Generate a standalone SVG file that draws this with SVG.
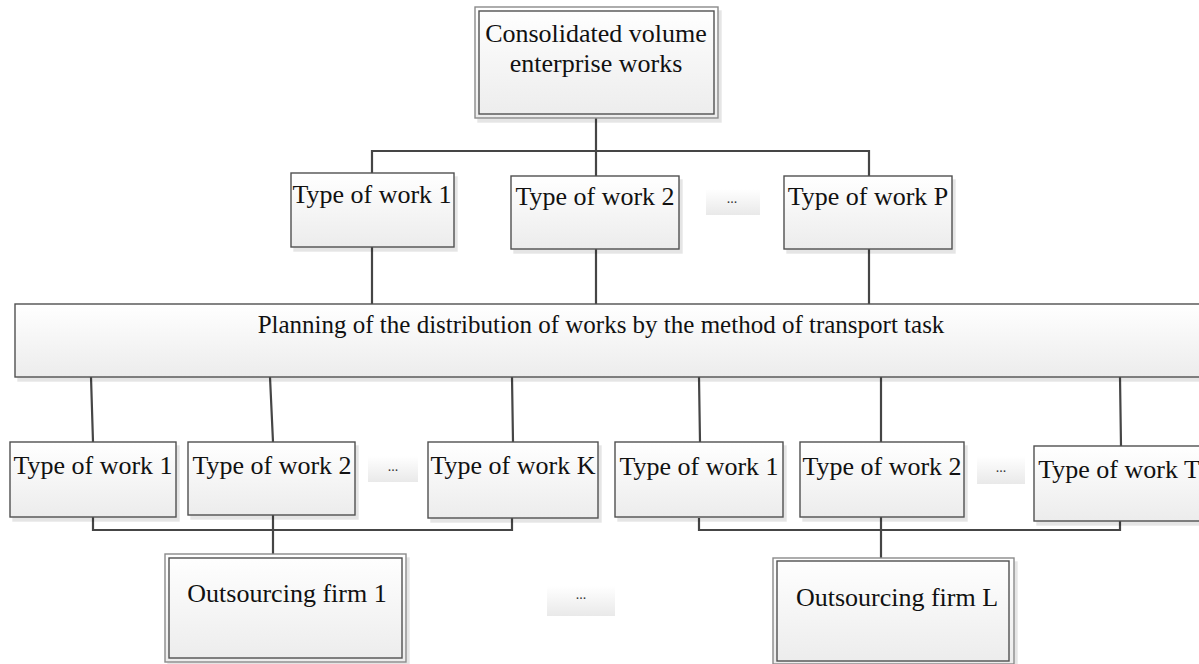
<svg xmlns="http://www.w3.org/2000/svg" width="1199" height="664" viewBox="0 0 1199 664">
  <defs>
    <linearGradient id="boxFill" x1="0" y1="0" x2="0" y2="1">
      <stop offset="0" stop-color="#ffffff"/>
      <stop offset="1" stop-color="#ececec"/>
    </linearGradient>
    <linearGradient id="gapFill" x1="0" y1="0" x2="0" y2="1">
      <stop offset="0" stop-color="#ffffff"/>
      <stop offset="1" stop-color="#e9e9e9"/>
    </linearGradient>
    <filter id="shadow" x="-5%" y="-5%" width="115%" height="120%">
      <feOffset in="SourceAlpha" dx="3" dy="4" result="off"/>
      <feFlood flood-color="#000" flood-opacity="0.1"/>
      <feComposite in2="off" operator="in" result="sh"/>
      <feMerge><feMergeNode in="sh"/><feMergeNode in="SourceGraphic"/></feMerge>
    </filter>
  </defs>
  <style>
    .box { fill: url(#boxFill); stroke: #505050; stroke-width: 1.4; filter: url(#shadow); }
    .outer { fill: url(#boxFill); stroke: #8a8a8a; stroke-width: 1.4; filter: url(#shadow); }
    .inner { fill: none; stroke: #505050; stroke-width: 1.4; }
    .gap { fill: url(#gapFill); stroke: none; }
    .lbl { font-family: "Liberation Serif", "Times New Roman", serif; font-size: 26px; fill: #111; text-anchor: middle; }
    .wide { font-size: 25px; }
    .dots { font-family: "Liberation Serif", "Times New Roman", serif; font-size: 14px; fill: #333; text-anchor: middle; }
    .wire { fill: none; stroke: #454545; stroke-width: 2.2; }
  </style>

  <!-- connectors -->
  <g id="connectors">
    <path class="wire" d="M596,118 V151 M372,173 V151 H869 V176 M596,151 V176"/>
    <path class="wire" d="M372,247 V304 M596,249 V304 M869,249 V304"/>
    <path class="wire" d="M91,377 L93,442 M270,377 L273,442 M512,377 L513,442"/>
    <path class="wire" d="M699,377 L700,442 M881,377 V442 M1120,377 L1121,446"/>
    <path class="wire" d="M93,517 V530 H512 V518 M273,515 V554"/>
    <path class="wire" d="M699,518 V530 H1120 V521 M881,517 V558"/>
  </g>

  <!-- top level -->
  <g id="consolidated">
    <rect class="outer" x="475" y="7" width="243" height="111"/>
    <rect class="inner" x="479" y="11" width="235" height="103"/>
    <text class="lbl" x="596" y="42">Consolidated volume</text>
    <text class="lbl" x="596" y="72">enterprise works</text>
  </g>

  <!-- types of work -->
  <g id="type-1">
    <rect class="box" x="291" y="173" width="163" height="74"/>
    <text class="lbl" x="372" y="203">Type of work 1</text>
  </g>
  <g id="type-2">
    <rect class="box" x="511" y="176" width="168" height="73"/>
    <text class="lbl" x="595" y="205">Type of work 2</text>
  </g>
  <g id="type-gap">
    <rect class="gap" x="706" y="189" width="54" height="26"/>
    <text class="dots" x="732" y="203">...</text>
  </g>
  <g id="type-p">
    <rect class="box" x="784" y="176" width="168" height="73"/>
    <text class="lbl" x="868" y="205">Type of work P</text>
  </g>

  <!-- planning -->
  <g id="planning">
    <rect class="box" x="15" y="304" width="1200" height="73"/>
    <text class="lbl wide" x="601" y="333">Planning of the distribution of works by the method of transport task</text>
  </g>

  <!-- works for firm 1 -->
  <g id="firm1-type-1">
    <rect class="box" x="10" y="442" width="166" height="75"/>
    <text class="lbl" x="93" y="474">Type of work 1</text>
  </g>
  <g id="firm1-type-2">
    <rect class="box" x="188" y="442" width="167" height="73"/>
    <text class="lbl" x="272" y="474">Type of work 2</text>
  </g>
  <g id="firm1-gap">
    <rect class="gap" x="368" y="456" width="50" height="26"/>
    <text class="dots" x="393" y="471">...</text>
  </g>
  <g id="firm1-type-k">
    <rect class="box" x="428" y="442" width="170" height="76"/>
    <text class="lbl" x="513" y="474">Type of work K</text>
  </g>

  <!-- works for firm L -->
  <g id="firmL-type-1">
    <rect class="box" x="615" y="442" width="168" height="75"/>
    <text class="lbl" x="699" y="475">Type of work 1</text>
  </g>
  <g id="firmL-type-2">
    <rect class="box" x="800" y="442" width="164" height="75"/>
    <text class="lbl" x="882" y="475">Type of work 2</text>
  </g>
  <g id="firmL-gap">
    <rect class="gap" x="977" y="456" width="48" height="28"/>
    <text class="dots" x="1001" y="472">...</text>
  </g>
  <g id="firmL-type-t">
    <rect class="box" x="1034" y="446" width="180" height="75"/>
    <text class="lbl" x="1119" y="478">Type of work T</text>
  </g>

  <!-- outsourcing firms -->
  <g id="firm-1">
    <rect class="outer" x="165" y="554" width="241" height="108"/>
    <rect class="inner" x="169" y="558" width="233" height="100"/>
    <text class="lbl" x="287" y="602">Outsourcing firm 1</text>
  </g>
  <g id="firm-gap">
    <rect class="gap" x="547" y="586" width="68" height="30"/>
    <text class="dots" x="581" y="599">...</text>
  </g>
  <g id="firm-l">
    <rect class="outer" x="773" y="558" width="241" height="106"/>
    <rect class="inner" x="777" y="561" width="232" height="100"/>
    <text class="lbl" x="897" y="606">Outsourcing firm L</text>
  </g>
</svg>
